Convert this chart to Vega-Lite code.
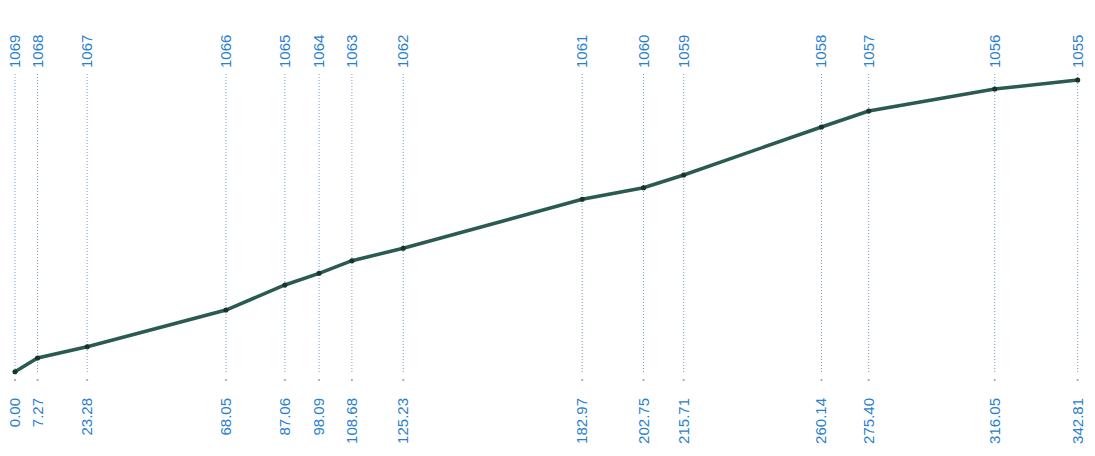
{
  "$schema": "https://vega.github.io/schema/vega-lite/v6.json",
  "width": 1095,
  "height": 456,
  "padding": 0,
  "autosize": {"type": "fit", "contains": "padding"},
  "background": "white",
  "config": {"view": {"stroke": null}},
  "data": {
    "values": [
      {"station": "1069", "km": 0.00, "label": "0.00", "elev": 84.3},
      {"station": "1068", "km": 7.27, "label": "7.27", "elev": 98},
      {"station": "1067", "km": 23.28, "label": "23.28", "elev": 109.3},
      {"station": "1066", "km": 68.05, "label": "68.05", "elev": 146},
      {"station": "1065", "km": 87.06, "label": "87.06", "elev": 171},
      {"station": "1064", "km": 98.09, "label": "98.09", "elev": 182.7},
      {"station": "1063", "km": 108.68, "label": "108.68", "elev": 195.3},
      {"station": "1062", "km": 125.23, "label": "125.23", "elev": 207.7},
      {"station": "1061", "km": 182.97, "label": "182.97", "elev": 256.7},
      {"station": "1060", "km": 202.75, "label": "202.75", "elev": 268.3},
      {"station": "1059", "km": 215.71, "label": "215.71", "elev": 281},
      {"station": "1058", "km": 260.14, "label": "260.14", "elev": 329},
      {"station": "1057", "km": 275.40, "label": "275.40", "elev": 345},
      {"station": "1056", "km": 316.05, "label": "316.05", "elev": 367},
      {"station": "1055", "km": 342.81, "label": "342.81", "elev": 376}
    ]
  },
  "encoding": {
    "x": {"field": "km", "type": "quantitative", "scale": {"domain": [-4.839, 348.39], "nice": false, "zero": false}, "axis": null}
  },
  "layer": [
    {
      "mark": {"type": "rule", "color": "#6c9ccf", "strokeWidth": 1, "strokeDash": [1, 2]},
      "encoding": {
        "y": {"datum": 84, "type": "quantitative", "scale": {"domain": [0, 456], "nice": false, "zero": true}, "axis": null},
        "y2": {"datum": 384}
      }
    },
    {
      "mark": {"type": "point", "filled": true, "color": "#9aa6b2", "size": 5, "opacity": 1},
      "encoding": {"y": {"datum": 76, "type": "quantitative"}}
    },
    {
      "mark": {"type": "line", "color": "#2b5a52", "strokeWidth": 3.5, "point": {"filled": true, "color": "#1a332e", "size": 26}},
      "encoding": {"y": {"field": "elev", "type": "quantitative"}}
    },
    {
      "mark": {"type": "text", "angle": 270, "align": "left", "baseline": "middle", "font": "Liberation Sans", "fontSize": 15, "color": "#2a80cc"},
      "encoding": {"y": {"datum": 388, "type": "quantitative"}, "text": {"field": "station"}}
    },
    {
      "mark": {"type": "text", "angle": 270, "align": "right", "baseline": "middle", "font": "Liberation Sans", "fontSize": 15, "color": "#2a80cc"},
      "encoding": {"y": {"datum": 58, "type": "quantitative"}, "text": {"field": "label"}}
    }
  ]
}
